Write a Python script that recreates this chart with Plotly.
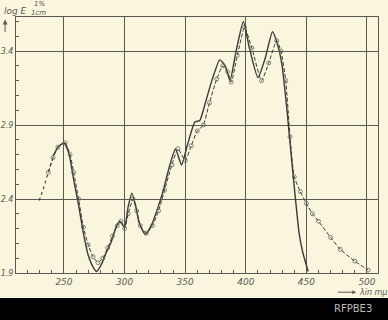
import plotly.graph_objects as go

# Dotted start segment (shared by both curves)
start_nm = [229.5, 233, 237, 241]
start_val = [2.39, 2.47, 2.58, 2.68]

# Solid curve
solid_nm = [241, 245, 250, 254, 258, 262, 266, 270, 274, 277, 281, 285, 289, 293, 296, 300,
            303, 306, 309, 312, 317, 322, 327, 332, 337, 342, 347, 352, 358, 362, 367, 372,
            378.5, 383, 387, 392, 398, 403, 410, 416, 422, 426, 430, 434, 438, 441, 444, 447, 451.5]
solid_val = [2.69, 2.75, 2.78, 2.71, 2.53, 2.36, 2.17, 2.02, 1.94, 1.91, 1.96, 2.04, 2.11, 2.21, 2.25, 2.21,
             2.35, 2.44, 2.36, 2.24, 2.16, 2.22, 2.33, 2.46, 2.62, 2.74, 2.63, 2.77, 2.92, 2.93, 3.06, 3.20,
             3.34, 3.30, 3.20, 3.40, 3.60, 3.42, 3.22, 3.35, 3.53, 3.45, 3.30, 3.00, 2.65, 2.40, 2.17, 2.04, 1.91]

# Dashed curve with open circles
dash_nm = [237, 241, 245, 251, 255, 258, 262, 266, 270, 274, 278, 282, 286, 290, 294, 297, 300,
           303, 307, 310, 313, 318, 323, 328, 333, 339, 344, 350, 355, 360, 365, 370, 376, 381,
           385, 388, 393, 399, 405, 413, 419, 425.5, 429, 433, 436.5, 440, 445, 450, 455, 460,
           470, 478, 490, 501]
dash_val = [2.58, 2.68, 2.75, 2.78, 2.70, 2.58, 2.40, 2.21, 2.09, 2.01, 1.97, 2.00, 2.07, 2.15, 2.22, 2.25, 2.20,
            2.30, 2.40, 2.32, 2.22, 2.17, 2.22, 2.32, 2.46, 2.63, 2.74, 2.66, 2.76, 2.86, 2.90, 3.05, 3.21, 3.30,
            3.26, 3.19, 3.37, 3.56, 3.42, 3.20, 3.32, 3.47, 3.40, 3.20, 2.82, 2.55, 2.45, 2.37, 2.30, 2.25,
            2.14, 2.06, 1.98, 1.92]

x_ticks = [250, 300, 350, 400, 450, 500]
y_ticks = [1.9, 2.4, 2.9, 3.4]

bg = "#f9f6dd"
ink = "#3a3a36"
grid = "#5a5a55"
txt = "#5b5b56"

fig = go.Figure()
fig.add_trace(go.Scatter(x=start_nm, y=start_val, mode="lines",
                         line=dict(color=ink, width=1.1, dash="dot"), showlegend=False))
fig.add_trace(go.Scatter(x=solid_nm, y=solid_val, mode="lines",
                         line=dict(color=ink, width=1.4, shape="spline", smoothing=0.5), showlegend=False))
fig.add_trace(go.Scatter(x=dash_nm, y=dash_val, mode="lines+markers",
                         line=dict(color=ink, width=1.0, dash="4px,2px", shape="spline", smoothing=0.5),
                         marker=dict(symbol="circle-open", size=4, color="#6a6a64", line=dict(width=0.8)),
                         showlegend=False))

axis_common = dict(showline=True, linecolor=grid, linewidth=1, mirror=True, automargin=False,
                   showgrid=True, gridcolor=grid, gridwidth=1, zeroline=False, ticks="")

fig.update_layout(
    width=388, height=320,
    margin=dict(l=16, r=10, t=17, b=47),
    paper_bgcolor=bg, plot_bgcolor=bg,
    xaxis=dict(range=[210.4, 509.1], tickvals=x_ticks, ticktext=[str(v) for v in x_ticks],
               tickfont=dict(family="DejaVu Sans", size=9, color=txt, style="italic"),
               minor=dict(ticks="inside", dtick=10, tick0=200, ticklen=3, tickcolor=grid, showgrid=False),
               **axis_common),
    yaxis=dict(range=[1.9, 3.63], tickvals=y_ticks, ticktext=[f"{v:.1f}" for v in y_ticks],
               ticklabelstandoff=0,
               tickfont=dict(family="DejaVu Sans", size=8, color=txt, style="italic"),
               minor=dict(ticks="inside", dtick=0.1, tick0=1.9, ticklen=3, tickcolor=grid, showgrid=False),
               **axis_common),
)

# y-axis title pieces
fig.add_annotation(xref="paper", yref="paper", x=-0.04, y=1.023, xanchor="left", yanchor="middle",
                   text="<i>log E</i>", showarrow=False, font=dict(family="DejaVu Sans", size=9, color=txt))
fig.add_annotation(xref="paper", yref="paper", x=0.044, y=1.052, xanchor="left", yanchor="middle",
                   text="<i>1%</i>", showarrow=False, font=dict(family="DejaVu Sans", size=7, color=txt))
fig.add_annotation(xref="paper", yref="paper", x=0.036, y=1.014, xanchor="left", yanchor="middle",
                   text="<i>1cm</i>", showarrow=False, font=dict(family="DejaVu Sans", size=7, color=txt))
# upward arrow
fig.add_annotation(xref="paper", yref="paper", x=-0.03, y=0.99, ax=0, ay=14,
                   text="", showarrow=True, arrowhead=2, arrowsize=1, arrowwidth=1, arrowcolor=txt)
# x-axis label with arrow
fig.add_annotation(xref="paper", yref="paper", x=1.03, y=-0.075, xanchor="right", yanchor="middle",
                   text="<i>λin mμ</i>", showarrow=False, font=dict(family="DejaVu Sans", size=8, color=txt))
fig.add_annotation(xref="paper", yref="paper", x=0.94, y=-0.075, ax=-20, ay=0,
                   text="", showarrow=True, arrowhead=2, arrowsize=0.8, arrowwidth=1, arrowcolor=txt)

# black strip at bottom of image
fig.add_shape(type="rect", xref="paper", yref="paper", x0=-0.1, x1=1.1, y0=-0.19, y1=-0.0977,
              fillcolor="black", line=dict(width=0), layer="above")
fig.add_annotation(xref="paper", yref="paper", x=0.93, y=-0.14, xanchor="center", yanchor="middle",
                   text="RFPBE3", showarrow=False, font=dict(family="DejaVu Sans", size=10, color="#bbbbbb"))

fig.write_html("out.html")
